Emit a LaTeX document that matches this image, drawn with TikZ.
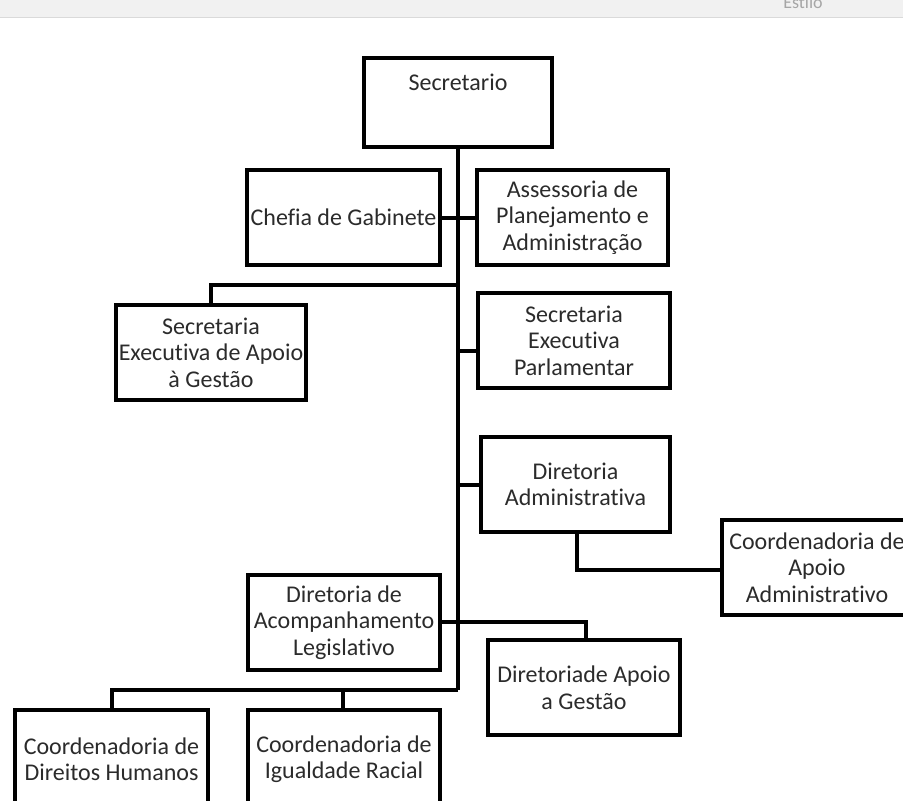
\documentclass[tikz,border=0pt]{standalone}
\usepackage{fontspec}
\setmainfont{Carlito}[Ligatures=NoCommon]
\definecolor{txtgray}{HTML}{2B2B2B}
\definecolor{barfill}{HTML}{F1F1F1}
\definecolor{barline}{HTML}{DADADA}
\tikzset{
  box/.style={draw=black, line width=4pt, fill=white, align=center, inner sep=0pt,
              text=txtgray, font=\fontsize{24}{26.5}\selectfont,
              minimum width=192pt, minimum height=95pt},
  link/.style={line width=4pt, draw=black},
  plaintxt/.style={text=txtgray, font=\fontsize{24}{26.5}\selectfont, inner sep=0pt}
}
\begin{document}
\begin{tikzpicture}[x=1pt,y=-1pt]
\useasboundingbox (0,0) rectangle (903,801);
\clip (0,0) rectangle (903,801);
\fill[white] (0,0) rectangle (903,801);
% top bar
\fill[barfill] (0,0) rectangle (903,17);
\draw[barline, line width=1.2pt] (0,17.5) -- (903,17.5);
\node[anchor=base, text=gray!70, font=\fontsize{18}{20}\selectfont, inner sep=0pt] (estilo) at (803,8) {Estilo};

% junction coordinates on the main line
\coordinate (top) at (458,147);
\coordinate (j1) at (458,285);
\coordinate (j2) at (458,351);
\coordinate (j3) at (458,485);
\coordinate (j4) at (458,690);

% main line (drawn first, boxes cover the ends)
\draw[link] (top) -- (j4);
\coordinate (k1) at (586,622);
\coordinate (k2) at (577,570);
\coordinate (k3) at (343,690);

% boxes
\node[box, minimum width=188pt, minimum height=89pt] (sec) at (458,102.5) {};
\node[plaintxt] (sectxt) at (458,82) {Secretario};

\node[box, minimum width=193pt] (chefia) at (343.5,217.5) {Chefia de Gabinete};
\node[box, minimum width=191pt] (assess) at (572.5,217.5) {Assessoria de\\Planejamento e\\Administração};

\node[box, minimum width=190pt] (sead) at (211,352.5) {Secretaria\\Executiva de Apoio\\à Gestão};
\node[box] (sep) at (574,340.5) {Secretaria\\Executiva\\Parlamentar};

\node[box, minimum width=189pt] (dadm) at (575.5,484.5) {Diretoria\\Administrativa};
\node[box, minimum width=190pt] (capo) at (817,567.5) {Coordenadoria de\\Apoio\\Administrativo};

\node[box] (dal) at (344,622.5) {Diretoria de\\Acompanhamento\\Legislativo};
\node[box] (dag) at (584,687.5) {Diretoriade Apoio\\a Gestão};

\node[box, minimum width=193pt, minimum height=98pt] (cdh) at (111.5,759) {Coordenadoria de\\Direitos Humanos};
\node[box, minimum height=98pt] (cir) at (344,759) {Coordenadoria de\\Igualdade Racial};

% side connectors
\draw[link] (chefia.east) -- (assess.west);
\draw[link] (j1) -| (sead.north);
\draw[link] (j2) -- (j2 -| sep.west);
\draw[link] (j3) -- (j3 -| dadm.west);
\draw[link] (dadm.south -| k2) -- (k2) -- (k2 -| capo.west);
\draw[link] (dal.east |- k1) -- (k1) -- (k1 |- dag.north);
\draw[link] (j4) -| (cdh.north);
\draw[link] (k3) -- (k3 |- cir.north);
\end{tikzpicture}
\end{document}
